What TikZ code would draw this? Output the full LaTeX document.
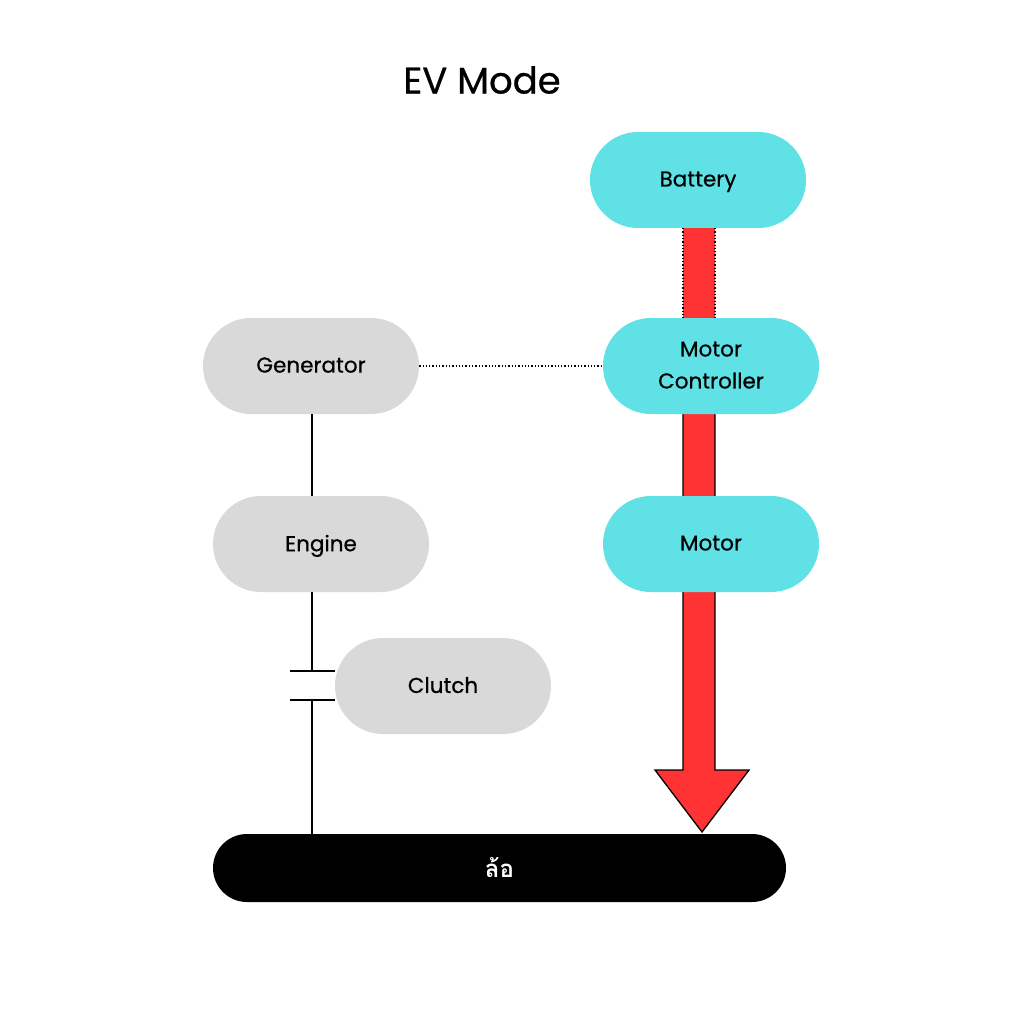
\documentclass[tikz,border=0pt]{standalone}
\usepackage{fontspec}
\setmainfont{Poppins}
\newfontfamily\medfont{Poppins}[FakeBold=0.6]
\newfontfamily\thaifont[Script=Thai]{Loma}
\usetikzlibrary{backgrounds}
\definecolor{cyanbox}{HTML}{5FE1E6}
\definecolor{graybox}{HTML}{D9D9D9}
\definecolor{redarrow}{HTML}{FF3333}
\begin{document}
\begin{tikzpicture}[x=1pt,y=-1pt,
  pill/.style={rounded corners=48pt, minimum width=216pt, minimum height=96pt,
    inner sep=0pt, align=center, text=black, text depth=2pt,
    font=\medfont\fontsize{21.5}{32}\selectfont},
  cyanpill/.style={pill, fill=cyanbox},
  graypill/.style={pill, fill=graybox},
  shaft/.style={line width=1.3pt, black},
  link/.style={line width=1.3pt, black}]
\useasboundingbox (0,0) rectangle (1024,1024);

\node[font=\medfont\fontsize{37}{44}\selectfont] (title) at (482,80) {EV Mode};

\node[cyanpill] (bat) at (698,180) {Battery};
\node[cyanpill] (mc) at (711,366) {Motor\\Controller};
\node[cyanpill] (mot) at (711,544) {Motor};
\node[graypill] (gen) at (311,366) {Generator};
\node[graypill] (eng) at (321,544) {Engine};
\node[graypill] (clu) at (443,686) {Clutch};
\node[fill=black, rounded corners=34pt, minimum width=573pt, minimum height=68pt,
      inner sep=0pt, text=white, font=\thaifont\bfseries\fontsize{24}{28}\selectfont]
      (wheel) at (499.5,868) {ล้อ};

\begin{scope}[on background layer]
  \fill[white] (0,0) rectangle (1024,1024);
  \fill[redarrow] (683,228) -- (683,770) -- (655,770) -- (702,832) -- (749,770)
        -- (715,770) -- (715,228) -- cycle;
  \draw[shaft, dotted] (683,228) -- (683,318);
  \draw[shaft, dotted] (715,228) -- (715,318);
  \draw[shaft, line join=miter] (683,318) -- (683,770) -- (655,770) -- (702,832)
        -- (749,770) -- (715,770) -- (715,318);
\end{scope}

\coordinate (c1) at (312,671);
\coordinate (c2) at (312,700);
\coordinate (pl) at (290,0);

\draw[link] (gen.south -| c1) -- (eng.north -| c1);
\draw[link] (eng.south -| c1) -- (c1);
\draw[link] (c1 -| pl) -- (c1 -| clu.west);
\draw[link] (c2 -| pl) -- (c2 -| clu.west);
\draw[link] (c2) -- (wheel.north -| c2);
\draw[line width=1.3pt, dotted] (gen.east) -- (mc.west);
\end{tikzpicture}
\end{document}
